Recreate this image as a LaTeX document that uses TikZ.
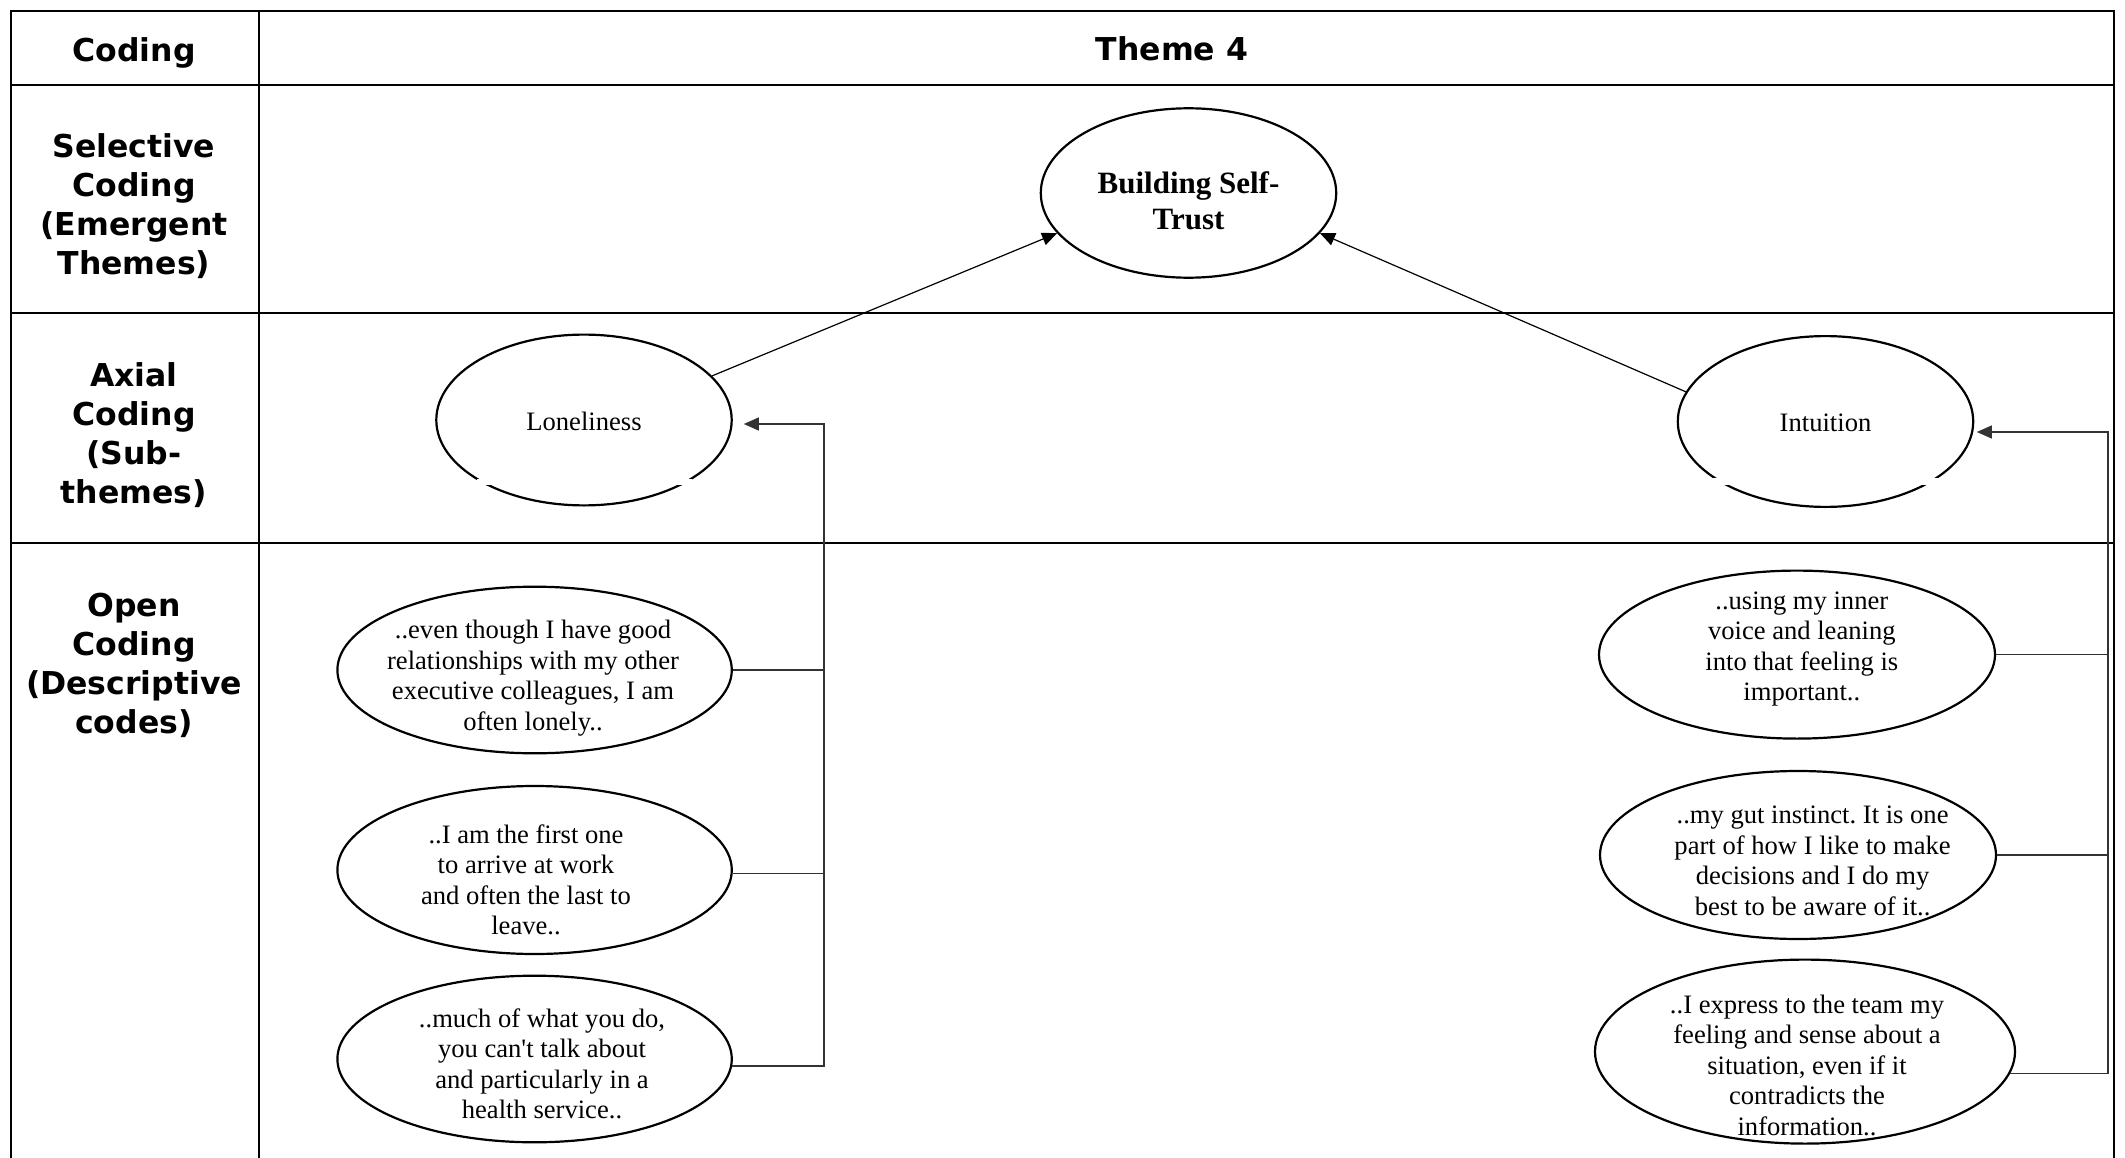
\documentclass[tikz,border=0pt]{standalone}
\usepackage{fontspec}
\setmainfont{Liberation Serif}[Ligatures=TeXOff]
\newfontfamily\labelfont{DejaVu Sans}
\usetikzlibrary{arrows.meta,shapes.geometric}
\frenchspacing

\tikzset{
  grid/.style={line width=2.2pt, line cap=rect},
  head/.style={font=\labelfont\bfseries\fontsize{31.5}{39}\selectfont, align=center, inner sep=0pt},
  oval/.style={ellipse, draw, line width=2.2pt, inner sep=0pt},
  quote/.style={font=\fontsize{26.6}{30.5}\selectfont, align=center, inner sep=0pt},
  theme/.style={font=\bfseries\fontsize{31}{36.5}\selectfont, align=center, inner sep=0pt},
  link/.style={line width=1.3pt, black!80},
  feed/.style={line width=1.2pt, black},
  tip/.style={-{Triangle[length=15pt,width=13pt]}},
}

\begin{document}
\begin{tikzpicture}[x=1pt,y=-1pt]
\useasboundingbox (0,0) rectangle (2125,1158);

% table grid
\draw[grid] (11,1158) -- (11,11) -- (2114,11) -- (2114,1158);
\draw[grid] (259,11) -- (259,1158);
\foreach \yy in {85,313,543} \draw[grid] (11,\yy) -- (2114,\yy);

% first column and header
\node[head] (hCod) at (134,53) {Coding};
\node[head] (hThm) at (1172,49) {Theme 4};
\node[head] (hSel) at (134,206) {Selective\\Coding\\(Emergent\\Themes)};
\node[head] (hAx)  at (134,435) {Axial\\Coding\\(Sub-\\themes)};
\node[head] (hOp)  at (134,665) {Open\\Coding\\(Descriptive\\codes)};

% emergent theme
\node[oval, minimum width=295.4pt, minimum height=169.4pt] (BST) at (1188.5,193) {};
\node[theme] (BSTt) at (1188.5,201) {Building Self-\\Trust};

% sub-themes
\node[oval, minimum width=295.4pt, minimum height=170.8pt] (Lone) at (584,420) {};
\node[oval, minimum width=295.4pt, minimum height=170.8pt] (Int) at (1825.5,421.5) {};
% breaks in the lower outlines
\fill[white] (477,478.5) rectangle (692,484.5);
\fill[white] (1713,478) rectangle (1938,485);
\node[quote] (Lonet) at (584,421.5) {Loneliness};
\node[quote] (Intt) at (1825.5,423) {Intuition};

% descriptive codes, left
\node[oval, minimum width=394.4pt, minimum height=166.6pt] (E1) at (534.6,670) {};
\node[oval, minimum width=394.4pt, minimum height=168pt] (E2) at (534.6,870) {};
\node[oval, minimum width=394.4pt, minimum height=166.6pt] (E3) at (534.6,1059) {};
\node[quote] (E1t) at (533,678) {..even though I have good\\relationships with my other\\executive colleagues, I am\\often lonely..};
\node[quote] (E2t) at (526,880) {..I am the first one\\to arrive at work\\and often the last to\\leave..};
\node[quote] (E3t) at (542,1064) {..much of what you do,\\you can't talk about\\and particularly in a\\health service..};

% descriptive codes, right
\node[oval, minimum width=396pt, minimum height=168pt] (R1) at (1797,654.6) {};
\node[oval, minimum width=396pt, minimum height=168pt] (R2) at (1798,855) {};
\node[oval, minimum width=420pt, minimum height=184pt] (R3) at (1805,1051.6) {};
\node[quote] (R1t) at (1801.8,649) {..using my inner\\voice and leaning\\into that feeling is\\important..};
\node[quote] (R2t) at (1812.6,861) {..my gut instinct. It is one\\part of how I like to make\\decisions and I do my\\best to be aware of it..};
\node[quote] (R3t) at (1807,1065) {..I express to the team my\\feeling and sense about a\\situation, even if it\\contradicts the\\information..};

% left bus
\coordinate (busL) at (824,424);
\draw[link] (E1.east) -- (E1.east -| busL);
\draw[link] (E2.-1) -- (E2.-1 -| busL);
\draw[link, tip, shorten >=11pt] (E3.-2.2) -| (busL) -- (busL -| Lone.east);

% right bus
\coordinate (busR) at (2108,432);
\draw[link] (R1.east) -- (R1.east -| busR);
\draw[link] (R2.east) -- (R2.east -| busR);
\draw[link, tip, shorten >=2.5pt] (R3.-6.5) -| (busR) -- (busR -| Int.east);

% sub-themes feed the emergent theme
\draw[feed, tip] (Lone.19.5) -- (BST.197);
\draw[feed, tip] (Int.168) -- (BST.-17);
\end{tikzpicture}
\end{document}
